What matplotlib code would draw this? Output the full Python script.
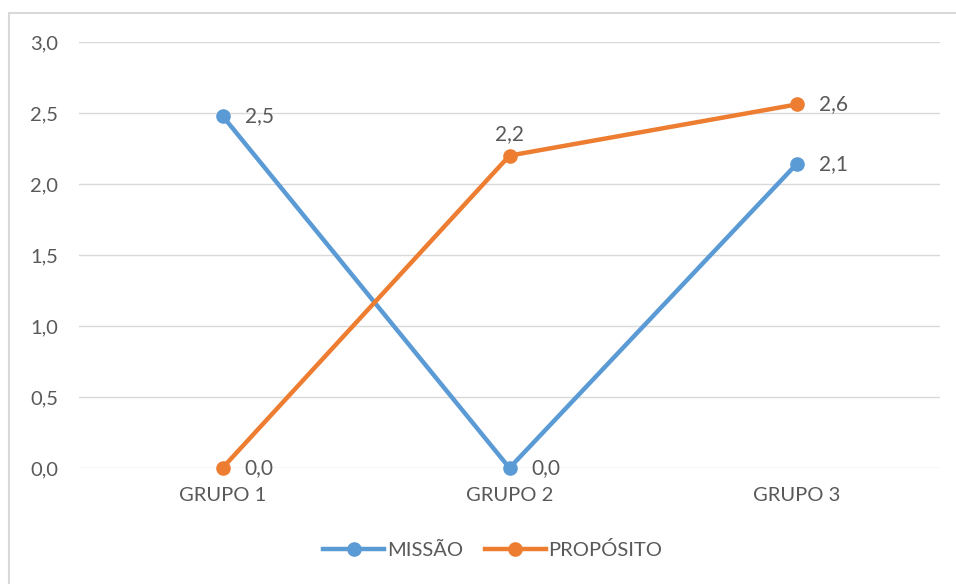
import matplotlib.pyplot as plt
from matplotlib.patches import Rectangle

# Dados do gráfico
grupos = ["GRUPO 1", "GRUPO 2", "GRUPO 3"]
missao = [2.48, 0.0, 2.14]
proposito = [0.0, 2.2, 2.56]

AZUL = "#5B9BD5"
LARANJA = "#ED7D31"
CINZA_TXT = "#595959"
CINZA_GRADE = "#D9D9D9"

plt.rcParams["font.family"] = ["Lato", "DejaVu Sans"]

W, H = 956, 584
fig = plt.figure(figsize=(W / 100, H / 100), dpi=100)
ax = fig.add_axes([79 / W, (H - 468) / H, (940 - 79) / W, (468 - 42) / H])

# Moldura externa do gráfico
fig.patches.append(Rectangle((9 / W, -0.1), 1.2, (H - 13) / H + 0.1,
                             transform=fig.transFigure, fill=False,
                             edgecolor=CINZA_GRADE, linewidth=1.5))

x = list(range(len(grupos)))
ax.plot(x, missao, color=AZUL, linewidth=3.2, marker="o", markersize=9.5,
        label="MISSÃO", zorder=3, clip_on=False)
ax.plot(x, proposito, color=LARANJA, linewidth=3.2, marker="o", markersize=9.5,
        label="PROPÓSITO", zorder=3, clip_on=False)


def fmt(v):
    return f"{v:.1f}".replace(".", ",")


# Rótulos de dados
for i, v in enumerate(missao):
    ax.annotate(fmt(v), (i, v), xytext=(16, 0), textcoords="offset points",
                ha="left", va="center", fontsize=15, color=CINZA_TXT)
for i, v in enumerate(proposito):
    if i == 1:
        ax.annotate(fmt(v), (i, v), xytext=(0, 8), textcoords="offset points",
                    ha="center", va="bottom", fontsize=15, color=CINZA_TXT)
    else:
        ax.annotate(fmt(v), (i, v), xytext=(16, 0), textcoords="offset points",
                    ha="left", va="center", fontsize=15, color=CINZA_TXT)

ax.set_xlim(-0.5, len(grupos) - 0.5)
ax.set_ylim(0, 3)
ax.set_yticks([0, 0.5, 1, 1.5, 2, 2.5, 3])
ax.set_yticklabels([fmt(t) for t in ax.get_yticks()])
ax.set_xticks(x)
ax.set_xticklabels(grupos)
ax.tick_params(axis="both", length=0, labelcolor=CINZA_TXT, labelsize=14.5)
ax.tick_params(axis="y", pad=15)
ax.tick_params(axis="x", pad=14)

ax.grid(axis="y", color=CINZA_GRADE, linewidth=1)
ax.set_axisbelow(True)
for s in ax.spines.values():
    s.set_visible(False)

ax.legend(loc="center", bbox_to_anchor=(493 / W, (H - 550) / H),
          bbox_transform=fig.transFigure, ncol=2, frameon=False,
          fontsize=14.5, labelcolor=CINZA_TXT, handlelength=3.0,
          handletextpad=0.15, columnspacing=1.1)

fig.savefig("out.png", dpi=100)
